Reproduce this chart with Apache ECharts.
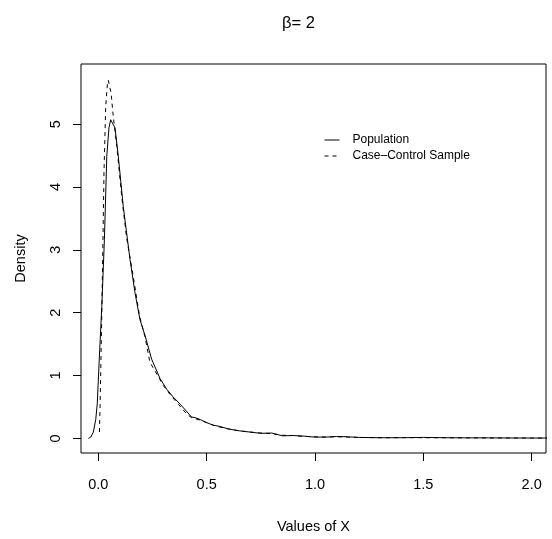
<!DOCTYPE html>
<html>
<head>
<meta charset="utf-8">
<script src="https://cdn.jsdelivr.net/npm/echarts@6/dist/echarts.min.js"></script>
<style>html,body{margin:0;padding:0;background:#fff}#c{width:552px;height:539px}</style>
</head>
<body>
<div id="c"></div>
<script>
var titleText = 'β= 2';
var seriesNames = ['Population', 'Case\u2013Control Sample'];
var xTicks = [0, 0.5, 1, 1.5, 2];
var yTicks = [0, 1, 2, 3, 4, 5];

var popX = [-0.046, -0.035, -0.023, -0.012, -0.005, 0.005, 0.016, 0.028, 0.039, 0.049, 0.057, 0.066, 0.077, 0.092, 0.115, 0.146, 0.169, 0.192, 0.216, 0.246, 0.285, 0.316, 0.345, 0.377, 0.41, 0.43, 0.446, 0.47, 0.5, 0.53, 0.56, 0.6, 0.65, 0.7, 0.75, 0.8, 0.85, 0.9, 0.95, 1.0, 1.05, 1.1, 1.15, 1.2, 1.3, 1.4, 1.5, 1.6, 1.7, 1.8, 1.9, 2.0, 2.07];
var popY = [0.0, 0.02, 0.1, 0.3, 0.55, 1.31, 2.1, 3.16, 4.49, 4.94, 5.07, 5.08, 4.94, 4.49, 3.69, 2.85, 2.32, 1.89, 1.63, 1.26, 0.95, 0.78, 0.66, 0.545, 0.42, 0.34, 0.33, 0.3, 0.25, 0.21, 0.19, 0.15, 0.12, 0.1, 0.08, 0.085, 0.04, 0.045, 0.035, 0.02, 0.02, 0.03, 0.025, 0.015, 0.01, 0.01, 0.015, 0.01, 0.008, 0.008, 0.006, 0.005, 0.005];

var ccX = [0.005, 0.008, 0.011, 0.015, 0.019, 0.026, 0.034, 0.042, 0.046, 0.051, 0.059, 0.069, 0.085, 0.108, 0.13, 0.16, 0.19, 0.215, 0.238, 0.262, 0.3, 0.331, 0.35, 0.37, 0.39, 0.41, 0.43, 0.45, 0.47, 0.5, 0.53, 0.56, 0.6, 0.65, 0.7, 0.75, 0.8, 0.85, 0.9, 0.95, 1.0, 1.05, 1.1, 1.15, 1.2, 1.3, 1.4, 1.5, 1.6, 1.7, 1.8, 1.9, 2.0, 2.07];
var ccY = [0.1, 0.5, 1.05, 1.8, 2.63, 4.22, 5.28, 5.65, 5.70, 5.68, 5.49, 5.12, 4.65, 3.85, 3.2, 2.6, 1.95, 1.62, 1.21, 1.07, 0.84, 0.70, 0.62, 0.54, 0.46, 0.38, 0.33, 0.31, 0.29, 0.25, 0.21, 0.18, 0.15, 0.12, 0.1, 0.085, 0.075, 0.05, 0.045, 0.03, 0.025, 0.02, 0.025, 0.02, 0.015, 0.01, 0.012, 0.01, 0.01, 0.008, 0.006, 0.006, 0.005, 0.005];

function pairs(xs, ys) { return xs.map(function (x, i) { return [x, ys[i]]; }); }

var FONT = '"Liberation Sans", Arial, sans-serif';
var chart = echarts.init(document.getElementById('c'), null, { renderer: 'canvas' });
chart.setOption({
  backgroundColor: '#fff',
  animation: false,
  title: {
    text: titleText, left: 282, top: 15, padding: 0,
    textStyle: { fontFamily: FONT, fontSize: 16.5, fontWeight: 'normal', color: '#000' }
  },
  legend: {
    orient: 'vertical', left: 324, top: 134, padding: 0,
    itemWidth: 15, itemHeight: 12, itemGap: 4,
    data: seriesNames,
    itemStyle: { color: 'rgba(0,0,0,0)', borderColor: 'rgba(0,0,0,0)', borderWidth: 0 },
    lineStyle: { width: 1 },
    textStyle: { fontFamily: FONT, fontSize: 12, color: '#000', padding: [0, 0, 0, 8] }
  },
  grid: { left: 81, right: 6, top: 64, bottom: 85, show: true, borderColor: '#000', borderWidth: 1, containLabel: false },
  xAxis: {
    type: 'value', min: -0.08, max: 2.066,
    name: 'Values of X', nameLocation: 'middle', nameGap: 66,
    nameTextStyle: { fontFamily: FONT, fontSize: 14.5, color: '#000' },
    axisLine: { show: false, onZero: false },
    axisTick: { show: true, inside: false, length: 8, lineStyle: { color: '#000' }, customValues: xTicks },
    axisLabel: { customValues: xTicks, margin: 24, fontFamily: FONT, fontSize: 14.5, color: '#000',
      formatter: function (v) { return v.toFixed(1); } },
    splitLine: { show: false }
  },
  yAxis: {
    type: 'value', min: -0.233, max: 5.957,
    name: 'Density', nameLocation: 'middle', nameGap: 53, nameRotate: 90,
    nameTextStyle: { fontFamily: FONT, fontSize: 14.5, color: '#000' },
    axisLine: { show: false, onZero: false },
    axisTick: { show: true, inside: false, length: 8, lineStyle: { color: '#000' }, customValues: yTicks },
    axisLabel: { customValues: yTicks, margin: 18, rotate: 90, fontFamily: FONT, fontSize: 14.5, color: '#000',
      formatter: function (v) { return String(v); } },
    splitLine: { show: false }
  },
  series: [
    { name: seriesNames[0], type: 'line', data: pairs(popX, popY), showSymbol: false, symbol: 'none',
      lineStyle: { color: '#000', width: 1, type: 'solid' }, itemStyle: { color: '#000' } },
    { name: seriesNames[1], type: 'line', data: pairs(ccX, ccY), showSymbol: false, symbol: 'none',
      lineStyle: { color: '#000', width: 1, type: [4, 4] }, itemStyle: { color: '#000' } }
  ]
});
</script>
</body>
</html>
